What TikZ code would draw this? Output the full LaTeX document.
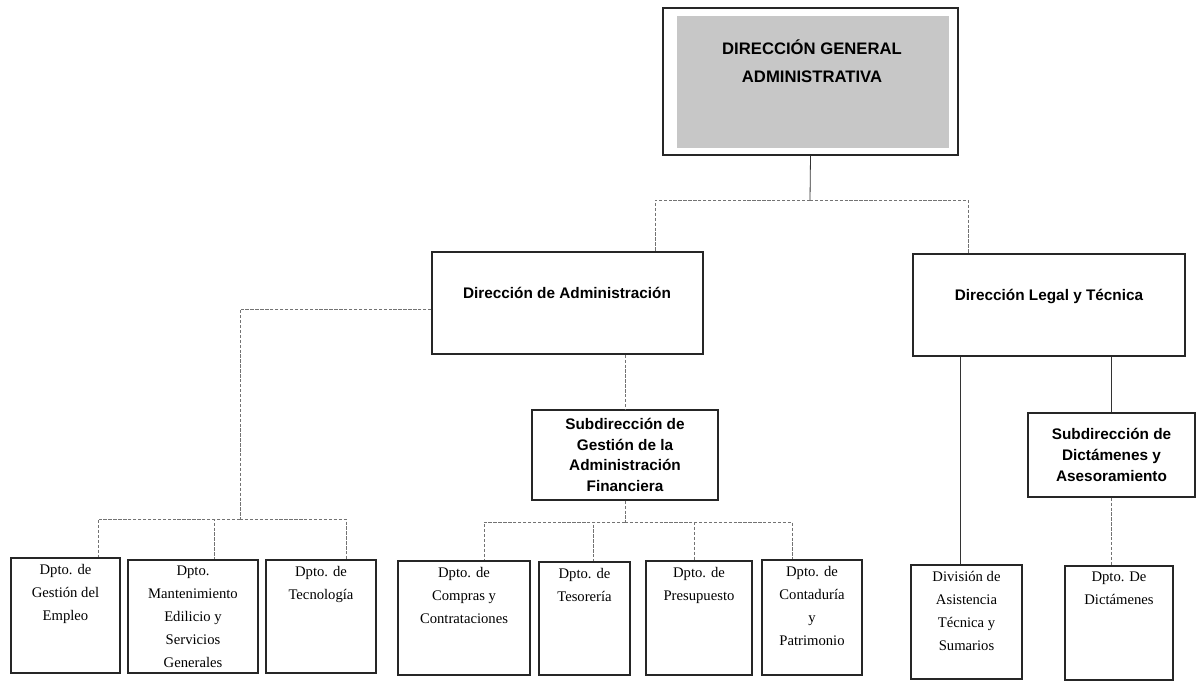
\documentclass[tikz,border=0pt]{standalone}
\usepackage{fontspec}
\setmainfont{Liberation Serif}
\setsansfont{Liberation Sans}
\usetikzlibrary{positioning}

\tikzset{
  caja/.style={draw=black!85, line width=1pt, inner sep=0pt},
  sombra/.style={fill=black!22},
  titulo/.style={font=\sffamily\bfseries\fontsize{11.5}{15.5}\selectfont, align=center, inner sep=0pt},
  dpto/.style={font=\fontsize{11}{17.25}\selectfont, align=center, inner sep=0pt},
  linea/.style={draw=black!80, line width=0.6pt},
  lineagris/.style={draw=black!55, line width=0.6pt, dash pattern=on 2.5pt off 1.2pt},
}

\begin{document}
\begin{tikzpicture}[x=0.75pt, y=-0.75pt]
\useasboundingbox (0,0) rectangle (1200,681);

% Direccion general
\node[caja, minimum width=221.25pt, minimum height=110.25pt] (gral) at (810.5,81.5) {};
\fill[sombra] ([shift={(15,9)}]gral.north west) rectangle ([shift={(-10,-8)}]gral.south east);
\node[titulo, font=\sffamily\bfseries\fontsize{12.5}{21}\selectfont] (gral-txt) at (812,61) {DIRECCIÓN GENERAL\\ADMINISTRATIVA};

% Direcciones
\node[caja, minimum width=203.25pt, minimum height=76.5pt] (da) at (567.5,303) {};
\node[titulo] (da-txt) at (567,293) {Dirección de Administración};
\node[caja, minimum width=204pt, minimum height=76.5pt] (dlt) at (1049,305) {};
\node[titulo] (dlt-txt) at (1049,297) {Dirección Legal y Técnica};

% Subdirecciones
\node[caja, titulo, minimum width=139.5pt, minimum height=67.5pt] (subaf) at (625,455) {Subdirección de\\Gestión de la\\Administración\\Financiera};
\node[caja, titulo, minimum width=125.25pt, minimum height=63pt] (subdict) at (1111.5,455) {Subdirección de\\Dictámenes y\\Asesoramiento};

% Departamentos de la Direccion de Administracion
\node[caja, minimum width=81.75pt, minimum height=86.25pt] (empleo) at (65.5,615.5) {};
\node[dpto, below=5pt of empleo.north] (empleo-txt) {Dpto. de\\Gestión del\\Empleo};
\node[caja, minimum width=97.5pt, minimum height=84.75pt] (mant) at (193,616.5) {};
\node[dpto, below=5pt of mant.north] (mant-txt) {Dpto.\\Mantenimiento\\Edilicio y\\Servicios\\Generales};
\node[caja, minimum width=82.5pt, minimum height=84.75pt] (tecno) at (321,616.5) {};
\node[dpto, below=5pt of tecno.north] (tecno-txt) {Dpto. de\\Tecnología};

% Departamentos de la Subdireccion financiera
\node[caja, minimum width=99pt, minimum height=85.5pt] (compras) at (464,618) {};
\node[dpto, below=5pt of compras.north] (compras-txt) {Dpto. de\\Compras y\\Contrataciones};
\node[caja, minimum width=68.25pt, minimum height=84.75pt] (tesor) at (584.5,618.5) {};
\node[dpto, below=5pt of tesor.north] (tesor-txt) {Dpto. de\\Tesorería};
\node[caja, minimum width=79.5pt, minimum height=85.5pt] (presu) at (699,618) {};
\node[dpto, below=5pt of presu.north] (presu-txt) {Dpto. de\\Presupuesto};
\node[caja, minimum width=75pt, minimum height=86.25pt] (conta) at (812,617.5) {};
\node[dpto, below=5pt of conta.north] (conta-txt) {Dpto. de\\Contaduría\\y\\Patrimonio};

% Direccion Legal y Tecnica
\node[caja, minimum width=83.25pt, minimum height=85.5pt] (divis) at (966.5,622) {};
\node[dpto, below=5pt of divis.north] (divis-txt) {División de\\Asistencia\\Técnica y\\Sumarios};
\node[caja, minimum width=81pt, minimum height=85.5pt] (dict) at (1119,623) {};
\node[dpto, below=5pt of dict.north] (dict-txt) {Dpto. De\\Dictámenes};

% Lineas
\coordinate (j1) at (810,200);
\draw[linea] (gral.south) -- (j1);
\draw[lineagris] (j1) -| (655,0 |- da.north);
\draw[lineagris] (j1) -| (968,0 |- dlt.north);

\coordinate (j2) at (240,519);
\draw[lineagris] (0,309 -| da.west) -| (j2);
\draw[lineagris] (j2) -| (98,0 |- empleo.north);
\draw[lineagris] (j2) -| (214,0 |- mant.north);
\draw[lineagris] (j2) -| (346,0 |- tecno.north);

\draw[lineagris] (subaf.north |- da.south) -- (subaf.north);
\coordinate (j3) at (625,522);
\draw[lineagris] (subaf.south) -- (j3);
\draw[lineagris] (j3) -| (484,0 |- compras.north);
\draw[lineagris] (j3) -| (593,0 |- tesor.north);
\draw[lineagris] (j3) -| (694,0 |- presu.north);
\draw[lineagris] (j3) -| (792,0 |- conta.north);

\draw[linea] (960,0 |- dlt.south) -- (960,0 |- divis.north);
\draw[linea] (subdict.north |- dlt.south) -- (subdict.north);
\draw[lineagris] (subdict.south) -- (subdict.south |- dict.north);
\end{tikzpicture}
\end{document}
